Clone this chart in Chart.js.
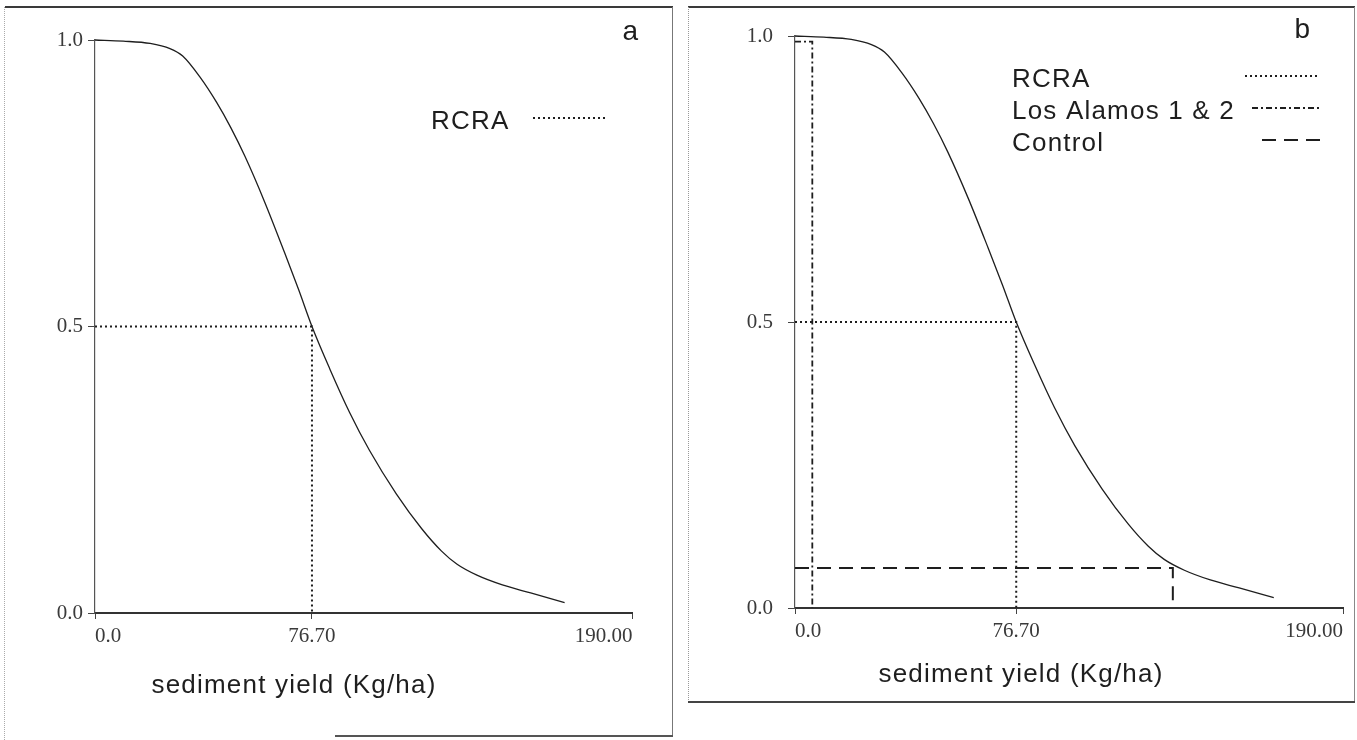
<!DOCTYPE html>
<html>
<head>
<meta charset="utf-8">
<script src="https://cdn.jsdelivr.net/npm/chart.js@4.4.1/dist/chart.umd.min.js"></script>
<style>
  body { margin: 0; background: #fff; width: 1357px; height: 740px; overflow: hidden; position: relative; }
  canvas { position: absolute; top: 0; }
  .edge { position: absolute; }
</style>
</head>
<body>
<!-- panel frames -->
<div class="edge" style="left:5px;top:6px;width:668px;height:2px;background:#3a3a3a"></div>
<div class="edge" style="left:4px;top:7px;width:0;height:733px;border-left:1px dotted #aaa"></div>
<div class="edge" style="left:672px;top:7px;width:1px;height:730px;background:#777"></div>
<div class="edge" style="left:335px;top:735px;width:338px;height:2px;background:#555"></div>
<div class="edge" style="left:688px;top:6px;width:667px;height:2px;background:#3a3a3a"></div>
<div class="edge" style="left:688px;top:7px;width:0;height:695px;border-left:1px dotted #999"></div>
<div class="edge" style="left:1354px;top:7px;width:1px;height:695px;background:#888"></div>
<div class="edge" style="left:688px;top:701px;width:667px;height:2px;background:#444"></div>

<canvas id="chartA" width="680" height="740" style="left:0"></canvas>
<canvas id="chartB" width="677" height="740" style="left:680px"></canvas>

<script>
// --- DATA ---
// solid curve (same RCRA distribution in both panels)
const curveX = [0, 10, 19.5, 26.5, 31, 37, 43, 48, 53, 60, 67, 72, 76.7, 83, 90, 97, 106.5, 115.5, 122.5, 128, 135, 144, 154, 166];
const curveY = [1.0, 0.998, 0.994, 0.985, 0.972, 0.936, 0.891, 0.847, 0.797, 0.717, 0.629, 0.564, 0.5, 0.426, 0.35, 0.284, 0.208, 0.147, 0.108, 0.085, 0.066, 0.049, 0.035, 0.018];

// reference lines
const rcraX = [0, 76.7, 76.7];
const rcraY = [0.5, 0.5, 0];
const losAlamosX = [0, 6, 6];
const losAlamosY = [0.99, 0.99, 0];
const controlX = [0, 131, 131];
const controlY = [0.07, 0.07, 0];

// ticks
const xTicks = [0, 76.7, 190];
const xTickLabels = ['0.0', '76.70', '190.00'];
const yTicks = [0, 0.5, 1.0];
const yTickLabels = ['0.0', '0.5', '1.0'];

const xTitle = 'sediment yield (Kg/ha)';

// --- STYLE ---
const INK = '#1e1e1e';
const AXIS = '#444';
const TICK = '#3a3a3a';
const SANS = '"Liberation Sans", Arial, sans-serif';

function pts(xs, ys) { return xs.map((x, i) => ({ x: x, y: ys[i] })); }

// text drawn inside each panel: axis title, panel letter, legend rows
const panelText = {
  id: 'panelText',
  afterDraw(chart, args, o) {
    const ctx = chart.ctx;
    ctx.save();
    ctx.fillStyle = INK;
    ctx.letterSpacing = '1.2px';
    ctx.font = '26px ' + SANS;
    ctx.textAlign = 'center';
    ctx.textBaseline = 'middle';
    ctx.fillText(xTitle, o.titleX, o.titleY);

    ctx.font = '28px ' + SANS;
    ctx.textBaseline = 'alphabetic';
    ctx.fillText(o.letter, o.letterX, o.letterY);

    ctx.font = '26px ' + SANS;
    ctx.textAlign = 'left';
    ctx.textBaseline = 'middle';
    chart.data.datasets.forEach(ds => {
      if (ds.legendRow === undefined) return;
      const y = o.legendY + ds.legendRow * o.rowH;
      ctx.fillText(ds.label, o.legendX, y);
      ctx.beginPath();
      ctx.setLineDash(ds.borderDash);
      ctx.lineWidth = ds.borderWidth;
      ctx.strokeStyle = ds.borderColor;
      ctx.moveTo(o.sampleX0[ds.legendRow], y - 4);
      ctx.lineTo(o.sampleX1, y - 4);
      ctx.stroke();
    });
    ctx.restore();
  }
};

function curveSet() {
  return { label: 'curve', data: pts(curveX, curveY), borderColor: INK, borderWidth: 1.3,
           pointRadius: 0, cubicInterpolationMode: 'monotone', fill: false, clip: false };
}

function refSet(label, xs, ys, dash, width, row) {
  return { label: label, data: pts(xs, ys), borderColor: INK, borderWidth: width, borderDash: dash,
           pointRadius: 0, tension: 0, fill: false, clip: false, legendRow: row };
}

function makePanel(id, datasets, lay, text) {
  return new Chart(document.getElementById(id), {
    type: 'line',
    data: { datasets: datasets },
    plugins: [panelText],
    options: {
      responsive: false,
      animation: false,
      layout: { padding: lay.padding },
      plugins: { legend: { display: false }, tooltip: { enabled: false }, panelText: text },
      scales: {
        x: {
          type: 'linear', min: 0, max: 190,
          afterFit: s => { s.height = 40; },
          afterBuildTicks: s => { s.ticks = xTicks.map(v => ({ value: v })); },
          ticks: { callback: (v, i) => xTickLabels[i], align: 'inner', maxRotation: 0,
                   font: { family: 'Liberation Serif', size: 21 }, color: TICK, padding: 5 },
          grid: { drawOnChartArea: false, drawTicks: true, tickLength: 6, color: AXIS },
          border: { display: true, color: '#333', width: 2 }
        },
        y: {
          type: 'linear', min: 0, max: 1,
          afterFit: s => { s.width = 60; },
          afterBuildTicks: s => { s.ticks = yTicks.map(v => ({ value: v })); },
          ticks: { callback: (v, i) => yTickLabels[i],
                   font: { family: 'Liberation Serif', size: 21 }, color: TICK, padding: lay.yPad },
          grid: { drawOnChartArea: false, drawTicks: true, tickLength: 7, color: AXIS },
          border: { display: true, color: '#555', width: 1.2 }
        }
      }
    }
  });
}

// --- PANEL a ---
makePanel('chartA',
  [curveSet(), refSet('RCRA', rcraX, rcraY, [2, 3], 2, 0)],
  { padding: { left: 35, top: 40, right: 47.5, bottom: 87 }, yPad: 5 },
  { titleX: 294, titleY: 686, letter: 'a', letterX: 631, letterY: 40,
    legendX: 431, legendY: 122, rowH: 32, sampleX0: [533], sampleX1: 606 });

// --- PANEL b ---
makePanel('chartB',
  [curveSet(),
   refSet('RCRA', rcraX, rcraY, [2, 3], 2, 0),
   refSet('Los Alamos 1 & 2', losAlamosX, losAlamosY, [6, 3, 2, 3], 1.8, 1),
   refSet('Control', controlX, controlY, [14, 8], 2, 2)],
  { padding: { left: 55, top: 36, right: 14, bottom: 92 }, yPad: 15 },
  { titleX: 341, titleY: 675, letter: 'b', letterX: 623, letterY: 38,
    legendX: 332, legendY: 80, rowH: 32, sampleX0: [565, 572, 582], sampleX1: 640 });
</script>
</body>
</html>
